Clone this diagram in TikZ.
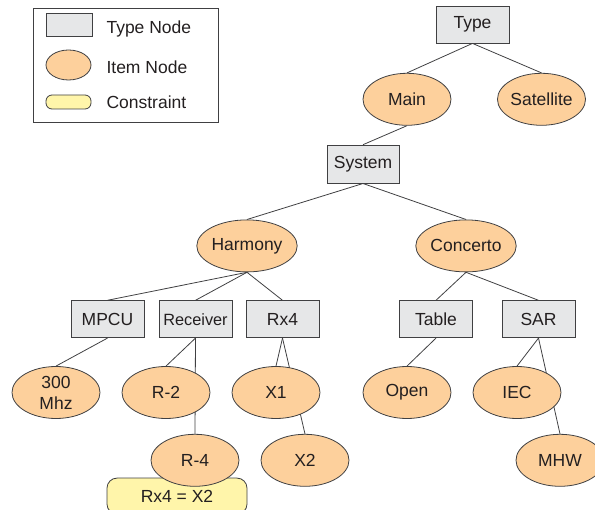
\documentclass[tikz,border=0pt]{standalone}
\usepackage{fontspec}
\setmainfont{Liberation Sans}
\usetikzlibrary{shapes, positioning, backgrounds}

\definecolor{typegray}{RGB}{230,231,232}
\definecolor{itemorange}{RGB}{253,208,156}
\definecolor{constryellow}{RGB}{255,245,170}
\definecolor{linegray}{RGB}{64,64,66}
\definecolor{textgray}{RGB}{35,31,32}

\tikzset{
	typenode/.style={rectangle, fill=typegray, draw=linegray, line width=0.8pt,
		minimum width=73pt, minimum height=37pt, inner sep=0pt},
	itemnode/.style={ellipse, fill=itemorange, draw=linegray, line width=0.8pt,
		minimum width=88pt, minimum height=52pt, inner sep=0pt},
	constraint/.style={rectangle, rounded corners=10pt, fill=constryellow, draw=linegray,
		line width=0.8pt, minimum width=140pt, minimum height=36pt, inner sep=0pt},
	link/.style={draw=linegray, line width=0.8pt},
}

\begin{document}
\begin{tikzpicture}[x=1pt, y=1pt, text=textgray,
	font=\fontsize{17.5}{21}\selectfont]
	
	\useasboundingbox (0,0) rectangle (595,-510);
	
	% legend
	\node[draw=linegray, line width=0.8pt, minimum width=185pt, minimum height=114pt,
		inner sep=0pt] (legend) at (125.5,-65) {};
	\node[typenode, minimum width=46pt, minimum height=23pt] (lt) at (69,-24.5) {};
	\node[itemnode, minimum width=45pt, minimum height=30pt] (li) at (68.5,-65) {};
	\node[constraint, rounded corners=6pt, minimum width=45pt, minimum height=14pt]
		(lc) at (68.5,-102) {};
	\node[anchor=west] (ltt) at (103,-29) {Type Node};
	\node[anchor=west] (lit) at (103,-67) {Item Node};
	\node[anchor=west] (lct) at (103,-102) {Constraint};
	
	% top
	\node[typenode] (Type) at (472.5,-24.5) {Type};
	\node[itemnode, below=29.5pt of Type, xshift=-65.5pt] (Main) {Main};
	\node[itemnode, minimum width=80pt, below=29.5pt of Type, xshift=69pt] (Sat) {Satellite};
	\node[typenode, minimum width=72pt, minimum height=38pt, below=19pt of Main, xshift=-44pt] (System) {System};
	
	% second level
	\node[itemnode, below=36pt of System, xshift=-116pt] (Harmony) {Harmony};
	\node[itemnode, below=36pt of System, xshift=103pt] (Concerto) {Concerto};
	
	% boxes
	\node[typenode, below=28pt of Harmony, xshift=-139.5pt] (MPCU) {MPCU};
	\node[typenode, below=28pt of Harmony, xshift=-51.5pt,
		font=\fontsize{16.3}{19}\selectfont] (Receiver) {Receiver};
	\node[typenode, below=28pt of Harmony, xshift=35.5pt] (Rx4) {Rx4};
	\node[typenode, below=28pt of Concerto, xshift=-30pt] (Table) {Table};
	\node[typenode, below=28pt of Concerto, xshift=72.5pt] (SAR) {SAR};
	
	% items
	\node[itemnode, below=28pt of MPCU, xshift=-51.5pt, align=center] (Mhz) {300\\Mhz};
	\node[itemnode, below=28pt of Receiver, xshift=-29.5pt] (R2) {R-2};
	\node[itemnode, below=28pt of Rx4, xshift=-6.5pt] (X1) {X1};
	\node[itemnode, below=28pt of Table, xshift=-29pt] (Open) {Open};
	\node[itemnode, below=28pt of SAR, xshift=-21.5pt] (IEC) {IEC};
	\node[itemnode, below=15pt of R2, xshift=29pt] (R4) {R-4};
	\node[itemnode, below=15pt of X1, xshift=29pt] (X2) {X2};
	\node[itemnode, below=15pt of IEC, xshift=43pt] (MHW) {MHW};
	
	\begin{scope}[on background layer]
		\node[constraint, below=-9pt of R4, xshift=-18pt] (C) {Rx4 = X2};
		
		\draw[link] (Type.south) -- (Main.north);
		\draw[link] (Type.south) -- (Sat.north);
		\draw[link] (Main.south) -- (System.north);
		\draw[link] (System.south) -- (Harmony.north);
		\draw[link] (System.south) -- (Concerto.north);
		\draw[link] (Harmony.south) -- (MPCU.north);
		\draw[link] (Harmony.south) -- (Receiver.north);
		\draw[link] (Harmony.south) -- (Rx4.north);
		\draw[link] (Concerto.south) -- (Table.north);
		\draw[link] (Concerto.south) -- (SAR.north);
		\draw[link] (MPCU.south) -- (Mhz.north);
		\draw[link] (Receiver.south) -- (R2.north);
		\draw[link] (Receiver.south) -- (R4.north);
		\draw[link] (Rx4.south) -- (X1.north);
		\draw[link] (Rx4.south) -- (X2.north);
		\draw[link] (Table.south) -- (Open.north);
		\draw[link] (SAR.south) -- (IEC.north);
		\draw[link] (SAR.south) -- (MHW.north);
	\end{scope}
	
\end{tikzpicture}
\end{document}
